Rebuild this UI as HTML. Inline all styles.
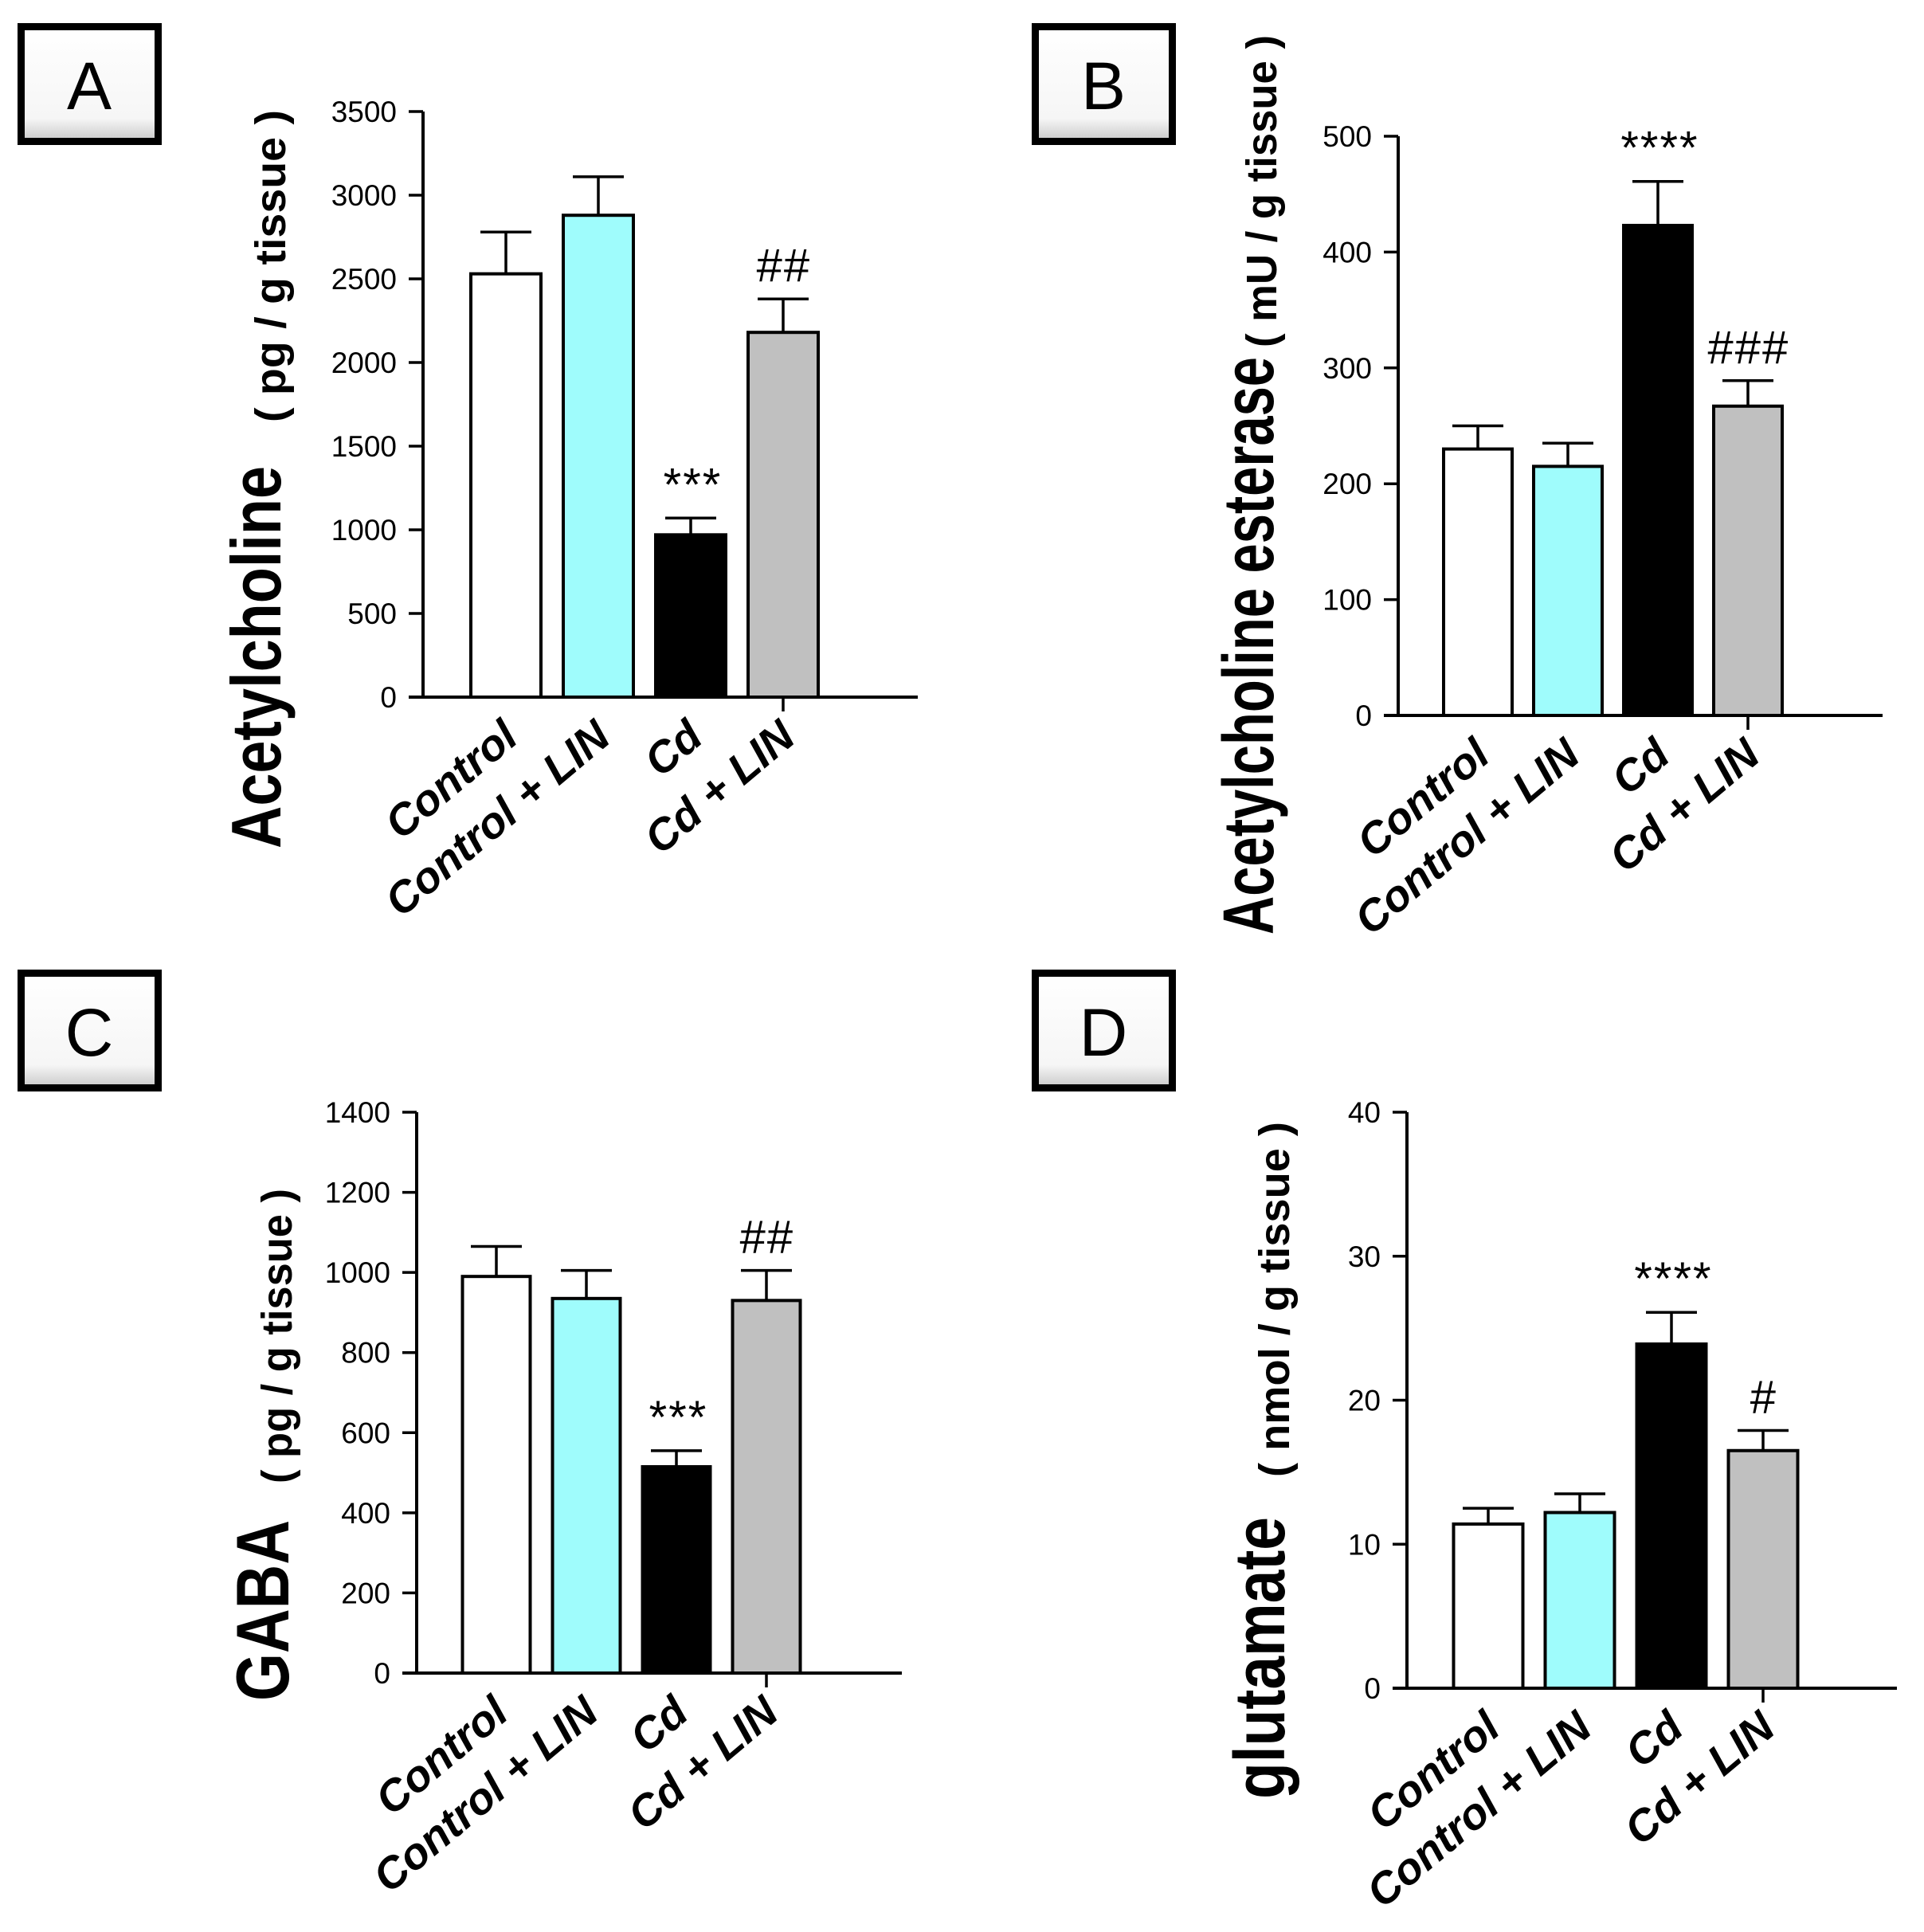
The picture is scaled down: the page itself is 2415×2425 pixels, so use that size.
<!DOCTYPE html>
<html><head><meta charset="utf-8"><style>
html,body{margin:0;padding:0;background:#fff;}
svg{display:block;font-family:"Liberation Sans",sans-serif;}
</style></head><body>
<svg id="fig" width="2415" height="2425" viewBox="0 0 2415 2425" xmlns="http://www.w3.org/2000/svg">
<defs>
<linearGradient id="bxg" x1="0" y1="0" x2="0" y2="1"><stop offset="0" stop-color="#ffffff"/><stop offset="0.8" stop-color="#f6f6f6"/><stop offset="1" stop-color="#c8c8c8"/></linearGradient>
</defs>
</svg>
<script>
const categories = ["Control", "Control + LIN", "Cd", "Cd + LIN"];
const fills = ["#ffffff", "#9ffcfc", "#000000", "#c0c0c0"];
const aValues = [2530, 2880, 970, 2180];
const aErrors = [250, 230, 100, 200];
const aTicks = [0, 500, 1000, 1500, 2000, 2500, 3000, 3500];
const aMarks = ["", "", "***", "##"];
const bValues = [230, 215, 423, 267];
const bErrors = [20, 20, 38, 22];
const bTicks = [0, 100, 200, 300, 400, 500];
const bMarks = ["", "", "****", "###"];
const cValues = [990, 935, 515, 930];
const cErrors = [75, 70, 40, 75];
const cTicks = [0, 200, 400, 600, 800, 1000, 1200, 1400];
const cMarks = ["", "", "***", "##"];
const dValues = [11.4, 12.2, 23.9, 16.5];
const dErrors = [1.1, 1.3, 2.2, 1.4];
const dTicks = [0, 10, 20, 30, 40];
const dMarks = ["", "", "****", "#"];

const NS = "http://www.w3.org/2000/svg";
const svg = document.getElementById("fig");
function mk(tag, attrs, parent, txt) {
  const e = document.createElementNS(NS, tag);
  for (const k in attrs) e.setAttribute(k, attrs[k]);
  if (txt !== undefined) e.textContent = txt;
  (parent || svg).appendChild(e);
  return e;
}

function panel(p) {
  const g = mk("g", {});
  
  
  const bx = mk("g", {}, g);
  
  
  mk("rect", {x: p.box[0] + 4.5, y: p.box[1] + 4.5, width: 172, height: 144, fill: "url(#bxg)", stroke: "#000", "stroke-width": 9}, bx);
  mk("text", {x: p.box[0] + 90, y: p.box[1] + 108, "font-size": 84, "text-anchor": "middle", fill: "#000"}, bx, p.letter);

  const y = v => p.y0 - (v / p.max) * (p.y0 - p.yTop);
  const ax = mk("g", {}, g);
  
  
  mk("line", {x1: p.ax, y1: p.yTop, x2: p.ax, y2: p.y0 + 2, stroke: "#000", "stroke-width": 4}, ax);
  p.ticks.forEach(t => {
    mk("line", {x1: p.ax - 18, y1: y(t), x2: p.ax, y2: y(t), stroke: "#000", "stroke-width": 3.5}, ax);
    const tl = mk("text", {x: p.ax - 33, y: y(t) + 13, "font-size": 37, "text-anchor": "end", fill: "#000"}, ax, String(t));
    
    
  });
  const xa = mk("line", {x1: p.ax - 18, y1: p.y0, x2: p.xEnd, y2: p.y0, stroke: "#000", "stroke-width": 4}, g);
  
  

  const bw = p.bw;
  p.values.forEach((v, i) => {
    const cx = p.x0 + i * p.step;
    const bar = mk("rect", {x: cx - bw / 2, y: y(v), width: bw, height: p.y0 - y(v), fill: fills[i], stroke: "#000", "stroke-width": 4}, g);
    
    
    const et = y(v + p.errors[i]);
    const eb = mk("path", {d: `M${cx},${y(v)} V${et} M${cx - 32},${et} H${cx + 32}`, stroke: "#000", "stroke-width": 3.5, fill: "none"}, g);
    
    
    if (p.marks[i]) {
      const m = mk("text", {x: cx, y: et - 22, "font-size": 58, "font-style": "italic", "text-anchor": "middle", "letter-spacing": 2, fill: "#000"}, g, p.marks[i]);
      
      
    }
    if (i === 3) mk("line", {x1: cx, y1: p.y0, x2: cx, y2: p.y0 + 18, stroke: "#000", "stroke-width": 3.5}, g);
    const lx = cx + 18, ly = p.y0 + 55;
    const cl = mk("text", {x: lx, y: ly, "font-size": 55, "font-weight": "bold", "font-style": "italic", "text-anchor": "end", transform: `rotate(-40 ${lx} ${ly})`, fill: "#000"}, g, categories[i]);
    
    
  });
  const t1 = mk("text", {x: 0, y: 0, "font-size": p.tSize, "font-weight": "bold", textLength: p.tLen, lengthAdjust: "spacingAndGlyphs", transform: `translate(${p.tX} ${p.tY}) rotate(-90)`, fill: "#000"}, g, p.title);
  
  
  const t2 = mk("text", {x: 0, y: 0, "font-size": 54, "font-weight": "bold", textLength: p.uLen, lengthAdjust: "spacingAndGlyphs", transform: `translate(${p.uX} ${p.uY}) rotate(-90)`, fill: "#000"}, g, p.units);
  
  
}

panel({letter: "A", box: [22, 29], ax: 531, yTop: 140, y0: 875, xEnd: 1152, max: 3500, ticks: aTicks, values: aValues, errors: aErrors, marks: aMarks,
  x0: 635, step: 116, bw: 88, title: "Acetylcholine", tSize: 88, tLen: 480, tX: 352, tY: 1065, units: "( pg / g tissue )", uLen: 392, uX: 358, uY: 530});
panel({letter: "B", box: [1295, 29], ax: 1755, yTop: 171, y0: 898, xEnd: 2363, max: 500, ticks: bTicks, values: bValues, errors: bErrors, marks: bMarks,
  x0: 1855, step: 113, bw: 86, title: "Acetylcholine esterase", tSize: 90, tLen: 725, tX: 1598, tY: 1173, units: "( mU / g tissue )", uLen: 392, uX: 1602, uY: 436});
panel({letter: "C", box: [22, 1217], ax: 523, yTop: 1396, y0: 2100, xEnd: 1132, max: 1400, ticks: cTicks, values: cValues, errors: cErrors, marks: cMarks,
  x0: 623, step: 113, bw: 85, title: "GABA", tSize: 94, tLen: 227, tX: 362, tY: 2135, units: "( pg / g tissue )", uLen: 370, uX: 366, uY: 1862});
panel({letter: "D", box: [1295, 1217], ax: 1766, yTop: 1396, y0: 2119, xEnd: 2381, max: 40, ticks: dTicks, values: dValues, errors: dErrors, marks: dMarks,
  x0: 1868, step: 115, bw: 87, title: "glutamate", tSize: 90, tLen: 354, tX: 1612, tY: 2258, units: "( nmol / g tissue )", uLen: 446, uX: 1618, uY: 1854});
</script>
</body></html>
